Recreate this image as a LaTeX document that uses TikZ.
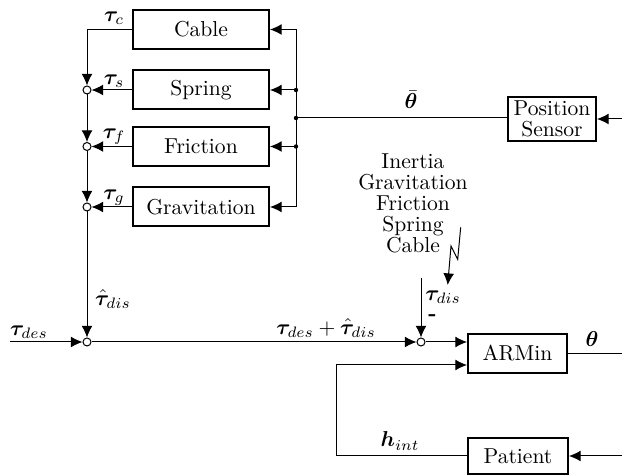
\RequirePackage{fix-cm}
\documentclass[tikz,border=0pt]{standalone}
\usepackage{amsmath,amssymb,bm}
\usepackage{fontspec}
\usetikzlibrary{arrows.meta}
\begin{document}
\begin{tikzpicture}[x=0.5pt,y=-0.5pt,
  every node/.style={font=\fontsize{10.8pt}{10.5pt}\selectfont},
  blk/.style={draw,line width=1pt,inner sep=0pt,align=center},
  sumc/.style={draw,circle,fill=white,line width=0.5pt,minimum size=4pt,inner sep=0pt},
  ln/.style={line width=0.5pt},
  arr/.style={line width=0.5pt,-{Latex[length=5.8pt,width=5.4pt]}},
  dot/.style={circle,fill,inner sep=0pt,minimum size=2.2pt},
  lbl/.style={inner sep=0pt}]
\useasboundingbox (0,0) rectangle (622,475);
% blocks
\node[blk,minimum width=68pt,minimum height=19.5pt] (cable) at (201,29.5) {Cable};
\node[blk,minimum width=68pt,minimum height=19.5pt] (spring) at (201,90) {Spring};
\node[blk,minimum width=68pt,minimum height=19.5pt] (friction) at (201,146.5) {Friction};
\node[blk,minimum width=68pt,minimum height=19.5pt] (grav) at (201,207) {Gravitation};
\node[blk,minimum width=44pt,minimum height=22pt] (ps) at (552,119) {Position\\Sensor};
\node[blk,minimum width=49.5pt,minimum height=19.5pt] (armin) at (517.5,353.5) {ARMin};
\node[blk,minimum width=50pt,minimum height=18pt] (patient) at (518,456) {Patient};
% summing junctions
\node[sumc] (s1) at (87,90) {};
\node[sumc] (s2) at (87,146.5) {};
\node[sumc] (s3) at (87,207) {};
\node[sumc] (s4) at (87,342) {};
\node[sumc] (s5) at (421,342) {};
% coordinates
\coordinate (bc) at (296,29.5);
\coordinate (bs) at (296,90);
\coordinate (bf) at (296,146.5);
\coordinate (bg) at (296,207);
\coordinate (j) at (296,118);
\coordinate (psin) at (622,119);
\coordinate (desin) at (10,342);
\coordinate (disin) at (421,278);
\coordinate (armout) at (622,353.5);
\coordinate (patin) at (622,456);
\coordinate (hc) at (336,365);
\coordinate (z0) at (460.7,227.3);
\coordinate (z1) at (457.7,259.3);
\coordinate (z2) at (451,246);
\coordinate (z3) at (447.7,285);
% left chain
\draw[arr] (cable.west) -| (s1.north);
\draw[arr] (spring.west) -- (s1.east);
\draw[arr] (friction.west) -- (s2.east);
\draw[arr] (grav.west) -- (s3.east);
\draw[arr] (s1.south) -- (s2.north);
\draw[arr] (s2.south) -- (s3.north);
\draw[arr] (s3.south) -- (s4.north);
% right bus
\draw[ln] (bc) -- (bg);
\draw[arr] (bc) -- (cable.east);
\draw[arr] (bs) -- (spring.east);
\draw[arr] (bf) -- (friction.east);
\draw[arr] (bg) -- (grav.east);
\node[dot] at (bs) {};
\node[dot] at (bf) {};
\node[dot] at (j) {};
\draw[ln] (ps.west |- j) -- (j);
\draw[arr] (psin) -- (ps.east);
% main path
\draw[arr] (desin) -- (s4.west);
\draw[arr] (s4.east) -- (s5.west);
\draw[arr] (s5.east) -- (s5.east -| armin.west);
\draw[arr] (disin) -- (s5.north);
\draw[arr] (z0) -- (z1) -- (z2) -- (z3);
\draw[ln] (armin.east) -- (armout);
\draw[arr] (patin) -- (patient.east);
\draw[arr] (patient.west) -| (hc) -- (hc -| armin.west);
% labels
\node[lbl] (lc) at (114,18) {$\boldsymbol{\tau}_c$};
\node[lbl] (ls) at (114,81) {$\boldsymbol{\tau}_s$};
\node[lbl] (lf) at (114,137) {$\boldsymbol{\tau}_f$};
\node[lbl] (lg) at (114,198) {$\boldsymbol{\tau}_g$};
\node[lbl] (lhat) at (113,299) {$\hat{\boldsymbol{\tau}}_{dis}$};
\node[lbl] (ldes) at (29,332) {$\boldsymbol{\tau}_{des}$};
\node[lbl] (lsum) at (326,328) {$\boldsymbol{\tau}_{des}+\hat{\boldsymbol{\tau}}_{dis}$};
\node[lbl] (ldis) at (443,297) {$\boldsymbol{\tau}_{dis}$};
\node[lbl] (lminus) at (432.5,318) {\textbf{-}};
\node[lbl] (lthb) at (411,100) {$\bar{\boldsymbol{\theta}}$};
\node[lbl] (lth) at (592,339) {$\boldsymbol{\theta}$};
\node[lbl] (lh) at (400,441) {$\boldsymbol{h}_{int}$};
\node[lbl,align=center] (dist) at (413,203) {Inertia\\Gravitation\\Friction\\Spring\\Cable};
\end{tikzpicture}
\end{document}
